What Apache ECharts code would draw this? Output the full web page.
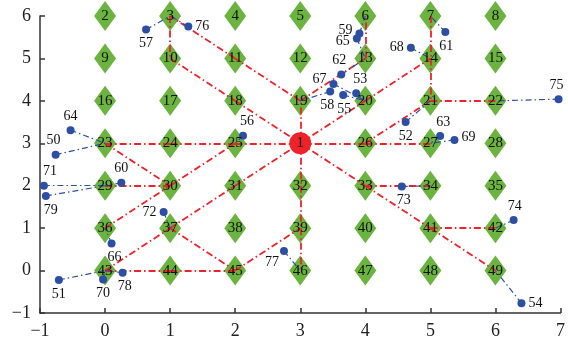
<!DOCTYPE html>
<html>
<head>
<meta charset="utf-8">
<script src="https://cdn.jsdelivr.net/npm/echarts@6/dist/echarts.min.js"></script>
<style>
  html, body { margin: 0; padding: 0; background: #fff; }
  #chart { width: 568px; height: 345px; }
</style>
</head>
<body>
<div id="chart"></div>
<script>
// Relay nodes on a regular grid, listed row by row from the top row down.
const relayRowY = [6, 5, 4, 3, 2, 1, 0];
const relayColX = [0, 1, 2, 3, 4, 5, 6];
const relayRows = [
  [2, 3, 4, 5, 6, 7, 8],
  [9, 10, 11, 12, 13, 14, 15],
  [16, 17, 18, 19, 20, 21, 22],
  [23, 24, 25, null, 26, 27, 28],
  [29, 30, 31, 32, 33, 34, 35],
  [36, 37, 38, 39, 40, 41, 42],
  [43, 44, 45, 46, 47, 48, 49]
];

// Sink node
const sinkId = 1;
const sinkX = 3;
const sinkY = 3;

// Sensor nodes and the relay each one reports to
const sensorIds = [50, 51, 52, 53, 54, 55, 56, 57, 58, 59, 60, 61, 62, 63, 64,
                   65, 66, 67, 68, 69, 70, 71, 72, 73, 74, 75, 76, 77, 78, 79];
const sensorX = [-0.76, -0.71, 4.62, 3.86, 6.40, 3.66, 2.12, 0.63, 3.46, 3.91,
                  0.25, 5.23, 3.63, 5.15, -0.53, 3.87, 0.10, 3.51, 4.70, 5.37,
                 -0.03, -0.94, 0.90, 4.56, 6.28, 6.97, 1.28, 2.75, 0.27, -0.91];
const sensorY = [2.73, -0.22, 3.50, 4.18, -0.77, 4.14, 3.18, 5.68, 4.22, 5.59,
                 2.07, 5.62, 4.62, 3.17, 3.31, 5.47, 0.64, 4.40, 5.25, 3.08,
                 -0.21, 2.00, 1.38, 1.98, 1.19, 4.04, 5.75, 0.46, -0.05, 1.76];
const sensorParent = [23, 43, 21, 20, 49, 20, 25, 3, 19, 6,
                      29, 7, 13, 27, 23, 13, 36, 20, 14, 27,
                      43, 29, 37, 34, 42, 22, 3, 46, 43, 29];

// Routing links between relays and the sink
const routeEdges = [
  [1, 25], [25, 24], [24, 23], [1, 26], [26, 27],
  [23, 30], [29, 30], [36, 30], [30, 25],
  [43, 37], [37, 31], [31, 1], [37, 45], [45, 39],
  [43, 44], [44, 45],
  [1, 32], [32, 39], [39, 46],
  [1, 33], [33, 41], [41, 49], [33, 34], [41, 42],
  [1, 19], [19, 11], [11, 3], [3, 10], [10, 18], [18, 1],
  [19, 13], [13, 6], [1, 20], [20, 14],
  [7, 14], [14, 21], [21, 22], [26, 21]
];

// Label placement for the sensor numbers
const sensorLabelPlace = {
  50: ['top', [-2, 0]], 51: ['bottom', [0, 0]], 52: ['bottom', [0, 0]], 53: ['top', [4, 0]],
  54: ['right', [0, 0]], 55: ['bottom', [1, 0]], 56: ['top', [4, 0]], 57: ['bottom', [0, 0]],
  58: ['bottom', [-3, 0]], 59: ['left', [0, -3]], 60: ['top', [0, 0]], 61: ['bottom', [1, 0]],
  62: ['top', [-2, 0]], 63: ['top', [3, 0]], 64: ['top', [0, 0]], 65: ['left', [0, 3]],
  66: ['bottom', [3, 0]], 67: ['left', [0, -5]], 68: ['left', [0, 0]], 69: ['right', [0, -3]],
  70: ['bottom', [0, 0]], 71: ['top', [6, 0]], 72: ['left', [0, 0]], 73: ['bottom', [2, 0]],
  74: ['top', [1, 0]], 75: ['top', [-2, 0]], 76: ['right', [0, 0]], 77: ['left', [2, 11]],
  78: ['bottom', [2, 0]], 79: ['bottom', [5, 0]]
};

const SERIF = '"Liberation Serif", "DejaVu Serif", serif';
const RED = '#ee2229';
const BLUE = '#2d4fa3';
const GREEN = '#6bb43f';

// Position lookup for every node id
const pos = {};
pos[sinkId] = [sinkX, sinkY];
relayRows.forEach((row, r) => row.forEach((id, c) => {
  if (id !== null) pos[id] = [relayColX[c], relayRowY[r]];
}));
sensorIds.forEach((id, i) => { pos[id] = [sensorX[i], sensorY[i]]; });

const relayData = [];
relayRows.forEach((row, r) => row.forEach((id, c) => {
  if (id !== null) relayData.push({ value: [relayColX[c], relayRowY[r]], name: String(id) });
}));

const sensorData = sensorIds.map((id, i) => {
  const p = sensorLabelPlace[id];
  return {
    value: [sensorX[i], sensorY[i]],
    name: String(id),
    label: { position: p[0], offset: p[1] }
  };
});

const routeData = routeEdges.map(e => ({ coords: [pos[e[0]], pos[e[1]]] }));
const linkData = sensorIds.map((id, i) => ({ coords: [pos[id], pos[sensorParent[i]]] }));

const fmt = v => (v < 0 ? '\u2212' + Math.abs(v) : String(v));
const axisCommon = {
  type: 'value',
  interval: 1,
  axisLine: { show: true, onZero: false, lineStyle: { color: '#333', width: 1.5 } },
  axisTick: { show: true, inside: true, length: 5, lineStyle: { color: '#333', width: 1.5 } },
  splitLine: { show: false },
  axisLabel: { color: '#222', fontFamily: SERIF, fontSize: 18, formatter: fmt, margin: 9 }
};

const chart = echarts.init(document.getElementById('chart'), null, { renderer: 'canvas' });
chart.setOption({
  animation: false,
  backgroundColor: '#fff',
  grid: { left: 40, right: 4, top: 16, bottom: 32 },
  xAxis: Object.assign({}, axisCommon, { min: -1, max: 7 }),
  yAxis: Object.assign({}, axisCommon, { min: -1, max: 6 }),
  series: [
    {
      type: 'scatter', name: 'relay', z: 1, silent: true,
      symbol: 'diamond', symbolSize: [22, 30],
      itemStyle: { color: GREEN, opacity: 1 },
      data: relayData
    },
    {
      type: 'lines', name: 'route', coordinateSystem: 'cartesian2d', z: 2, silent: true,
      lineStyle: { color: RED, width: 1.8, type: [7, 3, 1.5, 3], opacity: 1 },
      data: routeData
    },
    {
      type: 'lines', name: 'link', coordinateSystem: 'cartesian2d', z: 2, silent: true,
      lineStyle: { color: BLUE, width: 1.2, type: [6, 3, 1.5, 3], opacity: 1 },
      data: linkData
    },
    {
      type: 'scatter', name: 'sink', z: 3, silent: true,
      symbol: 'circle', symbolSize: 22,
      itemStyle: { color: RED, opacity: 1 },
      label: { show: true, position: 'inside', formatter: '{b}', color: '#111',
               fontFamily: SERIF, fontSize: 15 },
      data: [{ value: [sinkX, sinkY], name: String(sinkId) }]
    },
    {
      type: 'scatter', name: 'sensor', z: 4, silent: true,
      symbol: 'circle', symbolSize: 8,
      itemStyle: { color: BLUE, opacity: 1 },
      label: { show: true, formatter: '{b}', color: '#111', distance: 3,
               fontFamily: SERIF, fontSize: 14 },
      data: sensorData
    },
    {
      // Relay numbers drawn on top of the routing lines
      type: 'scatter', name: 'relayLabel', z: 5, silent: true,
      symbol: 'circle', symbolSize: 2,
      itemStyle: { color: 'rgba(255,255,255,0)', opacity: 1 },
      label: { show: true, position: 'inside', formatter: '{b}', color: '#111',
               fontFamily: SERIF, fontSize: 15 },
      data: relayData
    }
  ]
});
</script>
</body>
</html>
